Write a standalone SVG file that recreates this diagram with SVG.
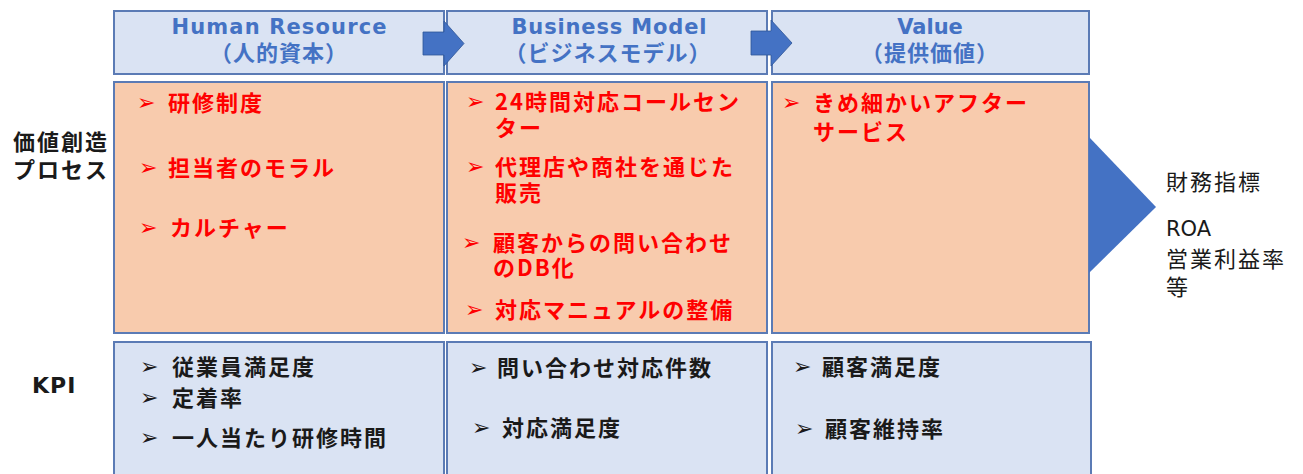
<svg xmlns="http://www.w3.org/2000/svg" width="1303" height="474" viewBox="0 0 1303 474">
<style>
.hdr{fill:#DAE3F3;stroke:#5B7BB5;stroke-width:2}
.mid{fill:#F8CBAD;stroke:#5B7BB5;stroke-width:2}
.kpi{fill:#DAE3F3;stroke:#5B7BB5;stroke-width:2}
.ht{font-family:"DejaVu Sans","Noto Sans CJK JP",sans-serif;font-weight:bold;font-size:21px;fill:#4472C4;text-anchor:middle}
.hj{font-family:"Noto Sans CJK JP",sans-serif;font-weight:bold;font-size:22px;fill:#4472C4;text-anchor:middle;letter-spacing:1px}
.rt{font-family:"Noto Sans CJK JP",sans-serif;font-weight:bold;font-size:22px;fill:#FF0000;letter-spacing:2px}
.bt{font-family:"Noto Sans CJK JP",sans-serif;font-weight:bold;font-size:22px;fill:#1A1A1A;letter-spacing:2px}
.nt{font-family:"Noto Sans CJK JP",sans-serif;font-size:22px;fill:#1A1A1A;letter-spacing:2px}
.rb{font-family:"DejaVu Sans",sans-serif;font-size:22px;fill:#FF0000}
.bb{font-family:"DejaVu Sans",sans-serif;font-size:22px;fill:#1A1A1A}
.arr{fill:#4472C4;stroke:#2F5597;stroke-width:0.8}
</style>
<rect width="1303" height="474" fill="#FFFFFF"/>

<g id="row-labels">
<text class="bt" x="13" y="150">価値創造<tspan x="13" dy="28">プロセス</tspan></text>
<text x="32" y="393" style="font-family:'DejaVu Sans',sans-serif;font-weight:bold;font-size:22px;fill:#1A1A1A;letter-spacing:1px">KPI</text>
</g>

<g id="header-human-resource">
<rect class="hdr" x="114" y="11" width="330" height="63"/>
<text class="ht" x="279" y="34" textLength="215" lengthAdjust="spacing">Human Resource</text>
<text class="hj" x="279" y="61">（人的資本）</text>
</g>
<g id="header-business-model">
<rect class="hdr" x="447" y="11" width="320" height="63"/>
<text class="ht" x="609" y="34" textLength="195" lengthAdjust="spacing">Business Model</text>
<text class="hj" x="608" y="61">（ビジネスモデル）</text>
</g>
<g id="header-value">
<rect class="hdr" x="772" y="11" width="317" height="63"/>
<text class="ht" x="930" y="34">Value</text>
<text class="hj" x="930" y="61">（提供価値）</text>
</g>

<g id="process-human-resource">
<rect class="mid" x="114" y="82" width="330" height="251"/>
<text class="rb" x="137" y="110">➢</text><text class="rt" x="168" y="111">研修制度</text>
<text class="rb" x="139" y="175">➢</text><text class="rt" x="168" y="176">担当者のモラル</text>
<text class="rb" x="139" y="235">➢</text><text class="rt" x="170" y="236">カルチャー</text>
</g>
<g id="process-business-model">
<rect class="mid" x="447" y="82" width="320" height="251"/>
<text class="rb" x="466" y="109">➢</text><text class="rt" x="495" y="110">24時間対応コールセン<tspan x="495" dy="26">ター</tspan></text>
<text class="rb" x="466" y="174">➢</text><text class="rt" x="495" y="175">代理店や商社を通じた<tspan x="495" dy="26">販売</tspan></text>
<text class="rb" x="462" y="250">➢</text><text class="rt" x="493" y="251">顧客からの問い合わせ<tspan x="493" dy="25">のDB化</tspan></text>
<text class="rb" x="465" y="317">➢</text><text class="rt" x="495" y="318">対応マニュアルの整備</text>
</g>
<g id="process-value">
<rect class="mid" x="772" y="82" width="317" height="251"/>
<text class="rb" x="782" y="110">➢</text><text class="rt" x="813" y="111">きめ細かいアフター<tspan x="813" dy="29">サービス</tspan></text>
</g>

<g id="kpi-human-resource">
<rect class="kpi" x="114" y="342" width="330" height="140"/>
<text class="bb" x="140" y="374">➢</text><text class="bt" x="172" y="375">従業員満足度</text>
<text class="bb" x="140" y="405">➢</text><text class="bt" x="172" y="406">定着率</text>
<text class="bb" x="140" y="445">➢</text><text class="bt" x="172" y="446">一人当たり研修時間</text>
</g>
<g id="kpi-business-model">
<rect class="kpi" x="447" y="342" width="320" height="140"/>
<text class="bb" x="469" y="375">➢</text><text class="bt" x="497" y="376">問い合わせ対応件数</text>
<text class="bb" x="472" y="435">➢</text><text class="bt" x="502" y="436">対応満足度</text>
</g>
<g id="kpi-value">
<rect class="kpi" x="772" y="342" width="319" height="140"/>
<text class="bb" x="793" y="374">➢</text><text class="bt" x="822" y="375">顧客満足度</text>
<text class="bb" x="795" y="436">➢</text><text class="bt" x="825" y="437">顧客維持率</text>
</g>

<g id="financial-indicators">
<text class="nt" x="1166" y="190">財務指標</text>
<text class="nt" x="1166" y="236"><tspan style="font-family:'DejaVu Sans',sans-serif;font-size:21px;letter-spacing:0">ROA</tspan><tspan x="1166" dy="31">営業利益率</tspan><tspan x="1166" dy="28">等</tspan></text>
</g>

<g id="connectors">
<polygon class="arr" points="423,32 444,32 444,21 464,43.5 444,66 444,55 423,55"/>
<polygon class="arr" points="751,31 771,31 771,20 792,43 771,66 771,55 751,55"/>
<polygon points="1089,137 1156,207 1089,273" fill="#4472C4"/>
</g>
</svg>
